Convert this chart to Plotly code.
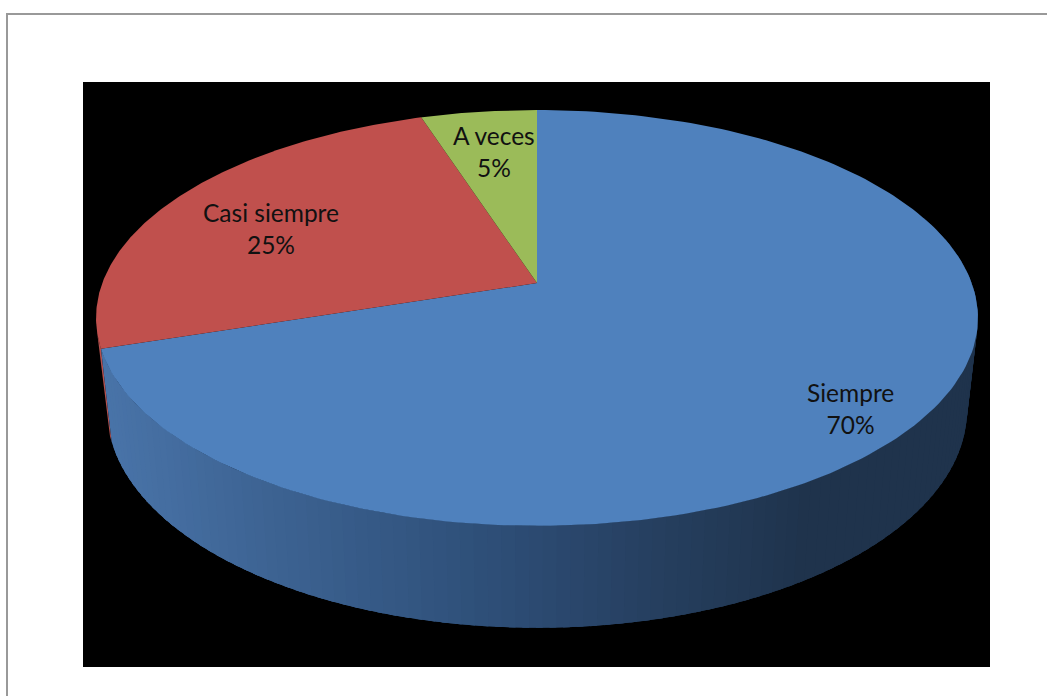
import numpy as np
import plotly.graph_objects as go

categories = ["Siempre", "Casi siempre", "A veces"]
values = [70, 25, 5]
percent_labels = ["70%", "25%", "5%"]

COLORS = ["#4F81BD", "#C0504D", "#9BBB59"]
LABEL_POS = [(850, 408), (271, 228), (494, 151)]

W, H = 1047, 696
CX = 537
K = 0.168
TOP = dict(a=434.7, b=202.0, y0=283.0)
BOT = dict(a=424.0, b=212.0, y0=373.0)


def project(phi_deg, disc):
    phi = np.radians(np.asarray(phi_deg, dtype=float))
    X, Y = np.sin(phi), np.cos(phi)
    w = 1 + K * Y
    return CX + disc["a"] * X / w, disc["y0"] - disc["b"] * Y / w


def wall_colour(x):
    xs = [100, 250, 440, 540, 640, 790, 980]
    rs = [74, 62, 48, 43, 38, 31, 31]
    gs = [117, 100, 82, 72, 63, 51, 51]
    bs = [170, 148, 124, 110, 95, 76, 76]
    return "rgb(%d,%d,%d)" % (np.interp(x, xs, rs), np.interp(x, xs, gs), np.interp(x, xs, bs))


def polygon(xs, ys, colour, lw=0.0):
    return go.Scatter(x=xs, y=ys, mode="lines", fill="toself", fillcolor=colour,
                      line=dict(color=colour, width=lw), hoverinfo="skip", showlegend=False)


total = sum(values)
edges = np.concatenate([[0], np.cumsum(values)]) * 360.0 / total

fig = go.Figure()

# side wall of the second slice (only a thin sliver shows at the left)
ph = np.linspace(edges[1], edges[1] + 4, 8)
tx, ty = project(ph, TOP)
bx, by = project(ph, BOT)
fig.add_trace(polygon(np.r_[tx, bx[::-1]], np.r_[ty, by[::-1]], "#B5504E"))

# side wall of the first slice, shaded strip by strip; each strip overlaps the previous one
ph = np.linspace(70, edges[1], 120)
step = ph[1] - ph[0]
for p0, p1 in zip(ph[:-1], ph[1:]):
    q0 = max(70, p0 - 1.5 * step)
    tx, ty = project([q0, p1], TOP)
    bx, by = project([q0, p1], BOT)
    fig.add_trace(polygon([tx[0], tx[1], bx[1], bx[0]], [ty[0], ty[1], by[1], by[0]],
                          wall_colour(float(project(p0, BOT)[0] + project(p1, BOT)[0]) / 2)))

# top faces
for i, colour in enumerate(COLORS):
    ph = np.linspace(edges[i], edges[i + 1], 200)
    x, y = project(ph, TOP)
    y0 = TOP["y0"]
    fig.add_trace(polygon(np.r_[CX, x, CX], np.r_[y0, y, y0], colour))

annotations = [
    dict(x=px, y=py, xref="x", yref="y", text=f"{c}<br>{p}", showarrow=False,
         xanchor="center", yanchor="middle", align="center",
         font=dict(family="Lato, Carlito, sans-serif", size=24.5, color="#111111"))
    for c, p, (px, py) in zip(categories, percent_labels, LABEL_POS)
]

shapes = [
    dict(type="rect", xref="x", yref="y", x0=83, x1=990, y0=82, y1=667,
         fillcolor="#000000", line_width=0, layer="below"),
    dict(type="path", xref="x", yref="y", path="M 7 700 L 7 14 L 1050 14",
         line=dict(color="#999999", width=2), layer="below"),
]

fig.update_layout(
    width=W, height=H, margin=dict(l=0, r=0, t=0, b=0),
    paper_bgcolor="white", plot_bgcolor="white", showlegend=False,
    xaxis=dict(range=[0, W], visible=False, fixedrange=True),
    yaxis=dict(range=[H, 0], visible=False, fixedrange=True),
    shapes=shapes, annotations=annotations,
)
fig.write_html("out.html", config=dict(displayModeBar=False),
               post_script="document.body.style.margin='0';document.body.style.overflow='hidden';")
